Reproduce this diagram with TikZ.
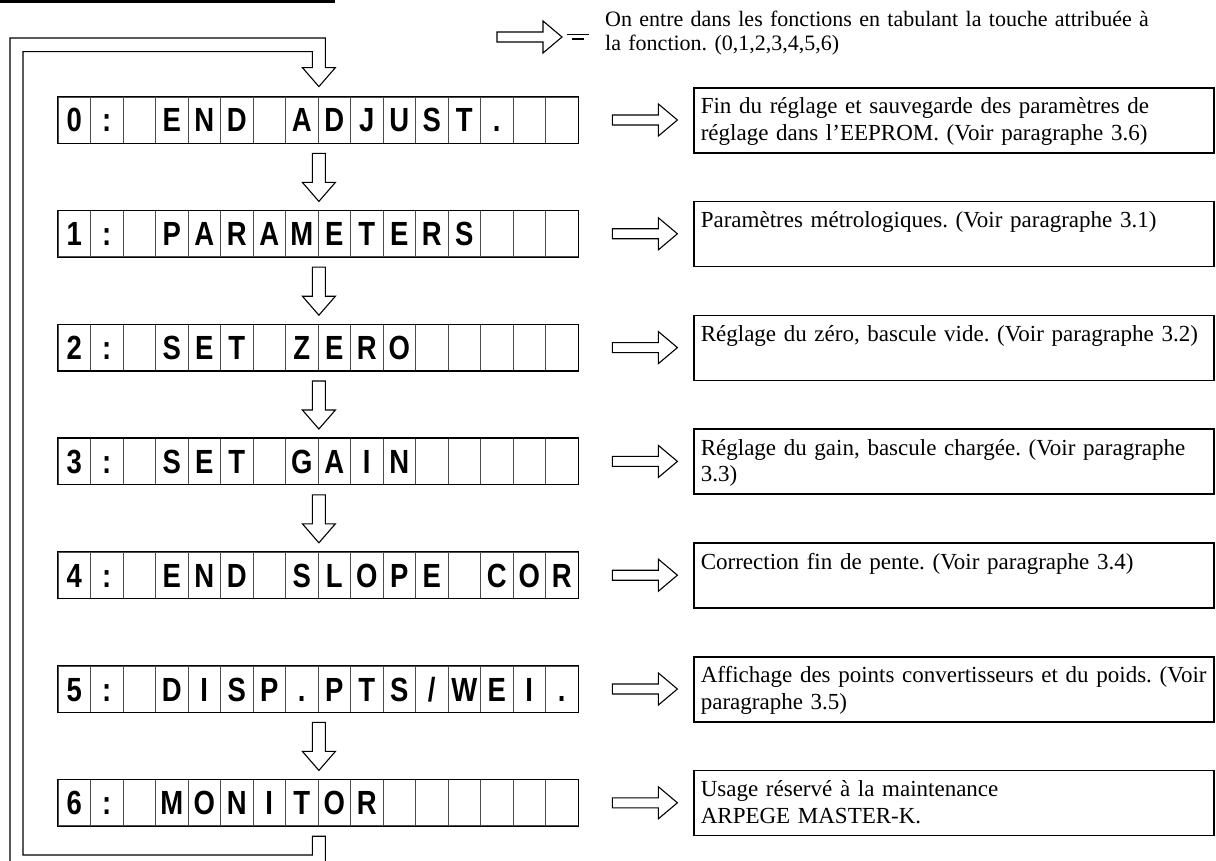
\documentclass[tikz,border=0pt]{standalone}
\usepackage{fontspec}
\setmainfont{Liberation Serif}
\newfontfamily\lcdfont{Liberation Sans}[FakeStretch=0.82]
\usetikzlibrary{calc}
\frenchspacing

% hollow block arrows (start point = middle of the shaft end)
\newcommand{\hollowright}[1]{\draw[blockarrow] (#1) ++(0,-5) -- ++(46,0) -- ++(0,-11) -- ++(19,16) -- ++(-19,16) -- ++(0,-11) -- ++(-46,0) -- cycle;}
\newcommand{\hollowdown}[1]{\draw[blockarrow] (#1) ++(-6.5,0) -- ++(0,29) -- ++(-10,0) -- ++(16.5,19) -- ++(16.5,-19) -- ++(-10,0) -- ++(0,-29) -- cycle;}

\begin{document}
\begin{tikzpicture}[x=1pt,y=-1pt,
    cell/.style={draw=black!70, line width=0.8pt, minimum width=32.5pt, minimum height=46pt,
      inner sep=0pt, text height=24pt, text depth=0pt,
      font=\lcdfont\bfseries\fontsize{33.5}{36}\selectfont},
    rowframe/.style={line width=1.1pt},
    descbox/.style={draw, line width=1.6pt, anchor=north west, text width=506pt, align=left,
      inner xsep=7pt, inner ysep=10pt, text height=16pt, text depth=29pt,
      font=\fontsize{23}{26.5}\selectfont},
    notetext/.style={anchor=base west, text width=600pt, align=left, inner sep=0pt,
      font=\fontsize{22}{24}\selectfont},
    blockarrow/.style={draw, line width=1.1pt, fill=white, line join=miter}]
    \useasboundingbox (0,0) rectangle (1216,861);

    % top rule
    \fill (0,0) rectangle (335,3.5);

    % legend
    \node[notetext] (note) at (605,27) {On entre dans les fonctions en tabulant la touche attribuée à\\la fonction. (0,1,2,3,4,5,6)};
    \hollowright{$(note.base west)+(-108,10)$}
    \draw[line width=1pt] ($(note.base west)+(-38,8)$) -- ++(22,0);
    \draw[line width=2pt] ($(note.base west)+(-33,12)$) -- ++(12,0);

    % display rows
    \foreach \chars [count=\r from 0] in {
        {0,:,{},E,N,D,{},A,D,J,U,S,T,.,{},{}},
        {1,:,{},P,A,R,A,M,E,T,E,R,S,{},{},{}},
        {2,:,{},S,E,T,{},Z,E,R,O,{},{},{},{},{}},
        {3,:,{},S,E,T,{},G,A,I,N,{},{},{},{},{}},
        {4,:,{},E,N,D,{},S,L,O,P,E,{},C,O,R},
        {5,:,{},D,I,S,P,.,P,T,S,/,W,E,I,.},
        {6,:,{},M,O,N,I,T,O,R,{},{},{},{},{},{}}}{
      \foreach \ch [count=\k from 0] in \chars
        \node[cell] (c\r-\k) at ({74.25+32.5*\k},{120+113.8*\r}) {\ch};
      \draw[rowframe] (c\r-0.north west) rectangle (c\r-15.south east);
    }

    % descriptions
    \node[descbox] (d0) at (693,87) {Fin du réglage et sauvegarde des paramètres de\\réglage dans l’EEPROM. (Voir paragraphe 3.6)};
    \node[descbox] (d1) at (693,200.8) {Paramètres métrologiques. (Voir paragraphe 3.1)};
    \node[descbox] (d2) at (693,314.6) {Réglage du zéro, bascule vide. (Voir paragraphe 3.2)};
    \node[descbox] (d3) at (693,428.4) {Réglage du gain, bascule chargée. (Voir paragraphe\\3.3)};
    \node[descbox] (d4) at (693,542.2) {Correction fin de pente. (Voir paragraphe 3.4)};
    \node[descbox] (d5) at (693,656) {Affichage des points convertisseurs et du poids. (Voir\\paragraphe 3.5)};
    \node[descbox] (d6) at (693,769.8) {Usage réservé à la maintenance\\ARPEGE MASTER-K.};

    % arrows
    \foreach \r in {0,...,6}{
      \hollowright{$(c\r-15.east)+(34,0)$}
    }
    \foreach \r in {0,1,2,3,5}{
      \hollowdown{$(c\r-7.south east)+(0.5,10)$}
    }

    % return path from MONITOR to END ADJUST.
    \coordinate (loopbot) at ($(c6-7.south east)+(0.5,10)$);
    \coordinate (looptip) at ($(c0-7.north east)+(0.5,-10)$);
    \draw[blockarrow, fill=none] ($(loopbot)+(6.5,40)$) -- ++(0,-40) -- ++(-13,0) |- (23,855)
      |- ($(looptip)+(-6.5,-35)$) -- ++(0,16) -- ++(-10,0) -- (looptip) -- ++(16.5,-19)
      -- ++(-10,0) |- (10,38) -- (10,870);
\end{tikzpicture}
\end{document}
